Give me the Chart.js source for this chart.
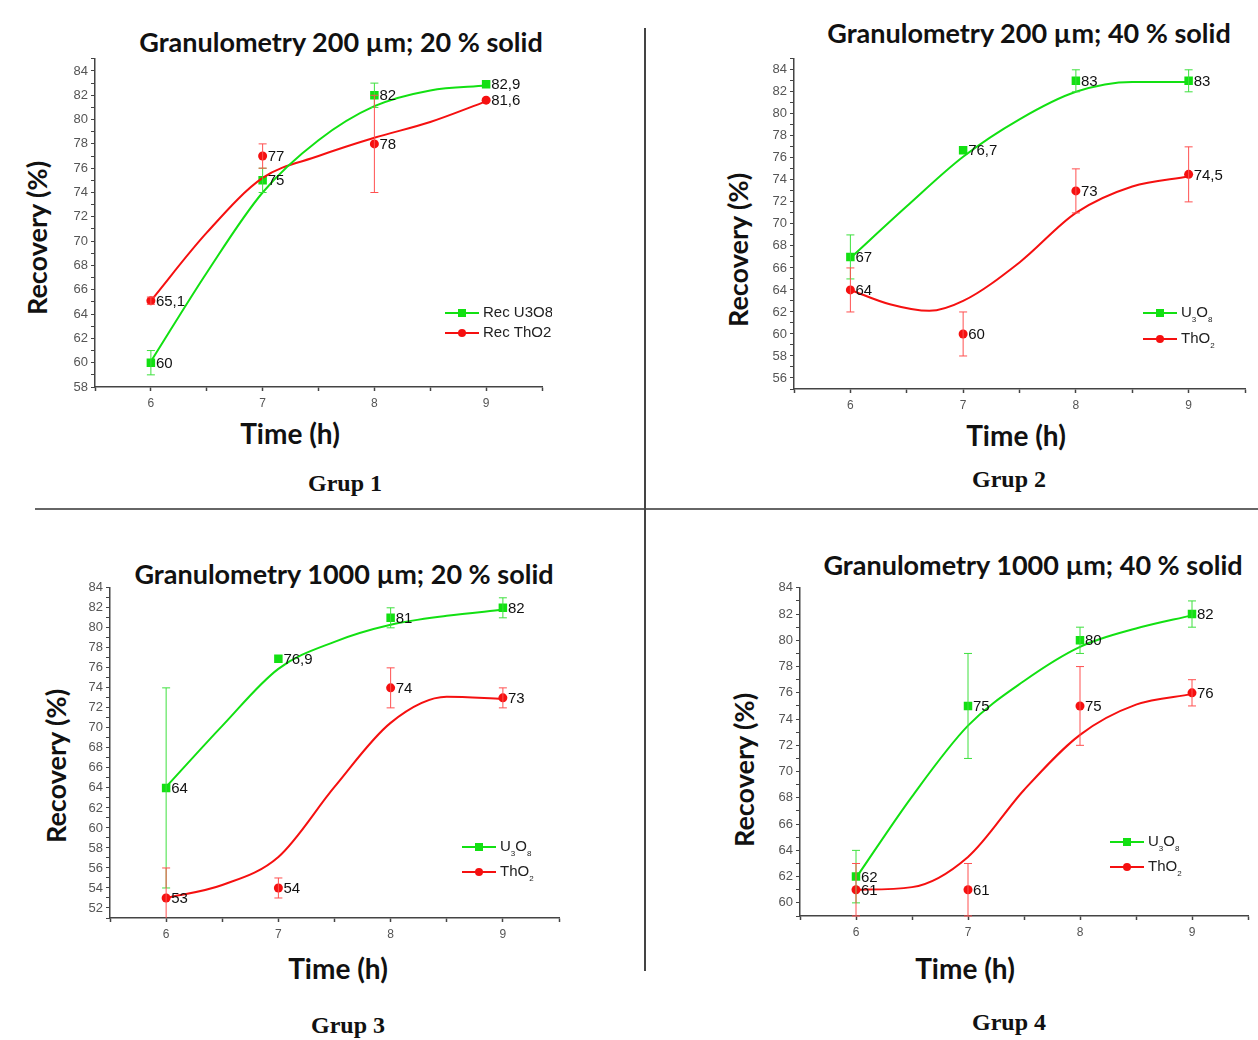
<!DOCTYPE html>
<html>
<head>
<meta charset="utf-8">
<script src="https://cdn.jsdelivr.net/npm/chart.js@4.4.1/dist/chart.umd.min.js"></script>
<style>
  html, body { margin: 0; padding: 0; background: #fff; }
  body { width: 1258px; height: 1040px; position: relative; overflow: hidden; }
  canvas { position: absolute; }
  .t { position: absolute; font-family: Lato, "Open Sans", sans-serif; font-weight: bold; color: #111; white-space: nowrap; transform: translate(-50%, -50%); }
  .ttl { font-size: 27px; }
  .xl { font-size: 28px; }
  .yl { font-size: 27px; transform: translate(-50%, -50%) rotate(-90deg); }
  .grp { position: absolute; font-family: "Liberation Serif", serif; font-weight: bold; font-size: 24px; color: #111; transform: translate(-50%, -50%); white-space: nowrap; }
  .hline { position: absolute; left: 35px; top: 508px; width: 1223px; height: 2px; background: #666; }
  .vline { position: absolute; left: 644px; top: 28px; width: 2px; height: 943px; background: #444; }
</style>
</head>
<body>
<div class="hline"></div>
<div class="vline"></div>

<div class="t ttl" style="left:341px; top:41px;">Granulometry 200 µm; 20 % solid</div>
<div class="t ttl" style="left:1029px; top:32px;">Granulometry 200 µm; 40 % solid</div>
<div class="t ttl" style="left:344px; top:573px;">Granulometry 1000 µm; 20 % solid</div>
<div class="t ttl" style="left:1033px; top:564px;">Granulometry 1000 µm; 40 % solid</div>

<div class="t yl" style="left:36px; top:238px;">Recovery (%)</div>
<div class="t yl" style="left:737px; top:250px;">Recovery (%)</div>
<div class="t yl" style="left:55px; top:766px;">Recovery (%)</div>
<div class="t yl" style="left:743px; top:770px;">Recovery (%)</div>

<div class="t xl" style="left:290px; top:433px;">Time (h)</div>
<div class="t xl" style="left:1016px; top:435px;">Time (h)</div>
<div class="t xl" style="left:338px; top:968px;">Time (h)</div>
<div class="t xl" style="left:965px; top:968px;">Time (h)</div>

<div class="grp" style="left:345px; top:483px;">Grup 1</div>
<div class="grp" style="left:1009px; top:479px;">Grup 2</div>
<div class="grp" style="left:348px; top:1025px;">Grup 3</div>
<div class="grp" style="left:1009px; top:1022px;">Grup 4</div>

<canvas id="c1"></canvas>
<canvas id="c2"></canvas>
<canvas id="c3"></canvas>
<canvas id="c4"></canvas>

<script>
// measured times (h)
const timeH = [6, 7, 8, 9];
const timeLabels = ['6', '7', '8', '9'];

// Grup 1 : 200 um, 20 % solid
const g1U3O8 = [60, 75, 82, 82.9];
const g1U3O8Err = [1, 1, 1, 0];
const g1ThO2 = [65.1, 77, 78, 81.6];
const g1ThO2Err = [0.3, 1, 4, 0];
const g1FitX = [6, 6.5, 7, 7.5, 8, 8.5, 9];
const g1U3O8Fit = [60.1, 67.4, 74, 78.3, 81.1, 82.4, 82.8];
const g1ThO2Fit = [65.1, 70.7, 75.2, 77, 78.5, 79.8, 81.5];

// Grup 2 : 200 um, 40 % solid
const g2U3O8 = [67, 76.7, 83, 83];
const g2U3O8Err = [2, 0, 1, 1];
const g2ThO2 = [64, 60, 73, 74.5];
const g2ThO2Err = [2, 2, 2, 2.5];
const g2U3O8FitX = [6, 6.5, 7, 7.5, 8, 8.5, 9];
const g2U3O8Fit = [66.9, 71.6, 76.1, 79.5, 82.0, 82.9, 82.9];
const g2ThO2FitX = [6, 6.35, 6.7, 7, 7.5, 8, 8.5, 9];
const g2ThO2Fit = [64, 62.7, 62.1, 63.0, 66.5, 71.0, 73.4, 74.3];

// Grup 3 : 1000 um, 20 % solid
const g3U3O8 = [64, 76.9, 81, 82];
const g3U3O8Err = [10, 0, 1, 1];
const g3ThO2 = [53, 54, 74, 73];
const g3ThO2Err = [3, 1, 2, 1];
const g3FitX = [6, 6.5, 7, 7.5, 8, 8.5, 9];
const g3U3O8Fit = [64.1, 70.2, 75.9, 78.6, 80.3, 81.2, 81.8];
const g3ThO2Fit = [53, 54.3, 57.1, 64.1, 70.5, 73.1, 72.9];

// Grup 4 : 1000 um, 40 % solid
const g4U3O8 = [62, 75, 80, 82];
const g4U3O8Err = [2, 4, 1, 1];
const g4ThO2 = [61, 61, 75, 76];
const g4ThO2Err = [2, 2, 3, 1];
const g4FitX = [6, 6.5, 7, 7.5, 8, 8.5, 9];
const g4U3O8Fit = [61.9, 68.1, 73.5, 76.9, 79.5, 80.9, 81.9];
const g4ThO2Fit = [61.0, 61.2, 63.5, 68.6, 72.8, 75.1, 75.9];

const GREEN = '#12e012';
const RED = '#f51010';

function pts(xs, ys) {
  return xs.map(function(x, i) { return { x: x, y: ys[i] }; });
}

// error bars + value labels
const errPlugin = {
  id: 'errBars',
  afterDatasetsDraw: function(chart) {
    const ctx = chart.ctx;
    const ys = chart.scales.y;
    const area = chart.chartArea;
    chart.data.datasets.forEach(function(ds, di) {
      if (!ds.errors) return;
      const meta = chart.getDatasetMeta(di);
      ctx.save();
      ctx.strokeStyle = ds.errColor;
      ctx.lineWidth = 1;
      meta.data.forEach(function(el, i) {
        const e = ds.errors[i];
        if (!e) return;
        const v = ds.data[i].y;
        const top = ys.getPixelForValue(v + e);
        let bot = ys.getPixelForValue(v - e);
        const clipped = bot > area.bottom;
        if (clipped) bot = area.bottom;
        ctx.beginPath();
        ctx.moveTo(el.x, top); ctx.lineTo(el.x, bot);
        ctx.moveTo(el.x - 4, top); ctx.lineTo(el.x + 4, top);
        if (!clipped) { ctx.moveTo(el.x - 4, bot); ctx.lineTo(el.x + 4, bot); }
        ctx.stroke();
      });
      ctx.restore();
    });
    // labels on top
    chart.data.datasets.forEach(function(ds, di) {
      if (!ds.errors) return;
      const meta = chart.getDatasetMeta(di);
      ctx.save();
      ctx.font = '15px "Liberation Sans", Arial, sans-serif';
      ctx.fillStyle = '#111';
      ctx.textAlign = 'left';
      ctx.textBaseline = 'middle';
      meta.data.forEach(function(el, i) {
        const txt = String(ds.data[i].y).replace('.', ',');
        ctx.fillText(txt, el.x + 5, el.y + 1);
      });
      ctx.restore();
    });
  }
};

// small legend drawn inside the plot
const legPlugin = {
  id: 'innerLegend',
  afterDraw: function(chart) {
    const o = chart.options.plugins.innerLegend;
    if (!o) return;
    const ctx = chart.ctx;
    ctx.save();
    o.items.forEach(function(it, k) {
      const y = o.y + k * o.gap;
      ctx.strokeStyle = it.color;
      ctx.lineWidth = 2;
      ctx.beginPath();
      ctx.moveTo(o.x, y); ctx.lineTo(o.x + 34, y);
      ctx.stroke();
      ctx.fillStyle = it.color;
      if (it.shape === 'rect') {
        ctx.fillRect(o.x + 13, y - 4, 8, 8);
      } else {
        ctx.beginPath(); ctx.arc(o.x + 17, y, 4, 0, Math.PI * 2); ctx.fill();
      }
      ctx.fillStyle = '#222';
      ctx.textBaseline = 'middle';
      ctx.textAlign = 'left';
      let tx = o.x + 38;
      it.parts.forEach(function(p) {
        if (p.sub) {
          ctx.font = '8px "Liberation Sans", Arial, sans-serif';
          ctx.fillText(p.t, tx, y + 7);
        } else {
          ctx.font = '15px "Liberation Sans", Arial, sans-serif';
          ctx.fillText(p.t, tx, y);
        }
        tx += ctx.measureText(p.t).width;
      });
    });
    ctx.restore();
  }
};

function makeChart(id, box, yMin, yMax, d, legend) {
  const cv = document.getElementById(id);
  cv.width = box.w; cv.height = box.h;
  cv.style.left = box.x + 'px'; cv.style.top = box.y + 'px';
  const axisCol = '#444';
  return new Chart(cv, {
    type: 'line',
    data: {
      datasets: [
        { data: pts(d.ufx, d.ufit), borderColor: GREEN, borderWidth: 2, pointRadius: 0, cubicInterpolationMode: 'monotone', fill: false },
        { data: pts(d.tfx, d.tfit), borderColor: RED, borderWidth: 2, pointRadius: 0, cubicInterpolationMode: 'monotone', fill: false },
        { data: pts(timeH, d.u), showLine: false, pointStyle: 'rect', pointRadius: 6, pointBackgroundColor: GREEN, pointBorderWidth: 0, errors: d.ue, errColor: '#3ee03e' },
        { data: pts(timeH, d.t), showLine: false, pointStyle: 'circle', pointRadius: 4.5, pointBackgroundColor: RED, pointBorderWidth: 0, errors: d.te, errColor: '#ff5050' }
      ]
    },
    options: {
      responsive: false,
      animation: false,
      devicePixelRatio: 1,
      layout: { padding: { top: 10, right: 10, left: 0, bottom: 0 } },
      plugins: { legend: { display: false }, tooltip: { enabled: false }, innerLegend: legend },
      scales: {
        x: {
          type: 'linear', min: 5.5, max: 9.5,
          afterFit: function(s) { s.height = 30; },
          ticks: {
            stepSize: 0.5, autoSkip: false, maxRotation: 0, padding: 5,
            color: '#555', font: { size: 12, family: '"Liberation Sans", Arial' },
            callback: function(v) { const i = timeH.indexOf(v); return i >= 0 ? timeLabels[i] : ''; }
          },
          grid: { drawOnChartArea: false, tickLength: 4, tickColor: axisCol, tickWidth: 1.5 },
          border: { color: axisCol, width: 1.5 }
        },
        y: {
          min: yMin, max: yMax,
          afterFit: function(s) { s.width = 45; },
          ticks: {
            stepSize: 1, autoSkip: false, padding: 3,
            color: '#555', font: { size: 13, family: '"Liberation Sans", Arial' },
            callback: function(v) { return v % 2 === 0 ? String(v) : ''; }
          },
          grid: { drawOnChartArea: false, tickLength: 4, tickColor: axisCol, tickWidth: 1 },
          border: { color: axisCol, width: 1.5 }
        }
      }
    },
    plugins: [errPlugin, legPlugin]
  });
}

const legRec = [
  { color: GREEN, shape: 'rect', parts: [{ t: 'Rec U3O8' }] },
  { color: RED, shape: 'circle', parts: [{ t: 'Rec ThO2' }] }
];
const legSub = [
  { color: GREEN, shape: 'rect', parts: [{ t: 'U' }, { t: '3', sub: true }, { t: 'O' }, { t: '8', sub: true }] },
  { color: RED, shape: 'circle', parts: [{ t: 'ThO' }, { t: '2', sub: true }] }
];

makeChart('c1', { x: 50, y: 48, w: 502, h: 369 }, 58, 85,
  { u: g1U3O8, ue: g1U3O8Err, t: g1ThO2, te: g1ThO2Err, ufx: g1FitX, ufit: g1U3O8Fit, tfx: g1FitX, tfit: g1ThO2Fit },
  { x: 395, y: 265, gap: 20, items: legRec });

makeChart('c2', { x: 749, y: 48, w: 506, h: 371 }, 55, 85,
  { u: g2U3O8, ue: g2U3O8Err, t: g2ThO2, te: g2ThO2Err, ufx: g2U3O8FitX, ufit: g2U3O8Fit, tfx: g2ThO2FitX, tfit: g2ThO2Fit },
  { x: 394, y: 265, gap: 26, items: legSub });

makeChart('c3', { x: 65, y: 577, w: 504, h: 371 }, 51, 84,
  { u: g3U3O8, ue: g3U3O8Err, t: g3ThO2, te: g3ThO2Err, ufx: g3FitX, ufit: g3U3O8Fit, tfx: g3FitX, tfit: g3ThO2Fit },
  { x: 397, y: 270, gap: 25, items: legSub });

makeChart('c4', { x: 755, y: 577, w: 503, h: 369 }, 59, 84,
  { u: g4U3O8, ue: g4U3O8Err, t: g4ThO2, te: g4ThO2Err, ufx: g4FitX, ufit: g4U3O8Fit, tfx: g4FitX, tfit: g4ThO2Fit },
  { x: 355, y: 265, gap: 25, items: legSub });
</script>
</body>
</html>
